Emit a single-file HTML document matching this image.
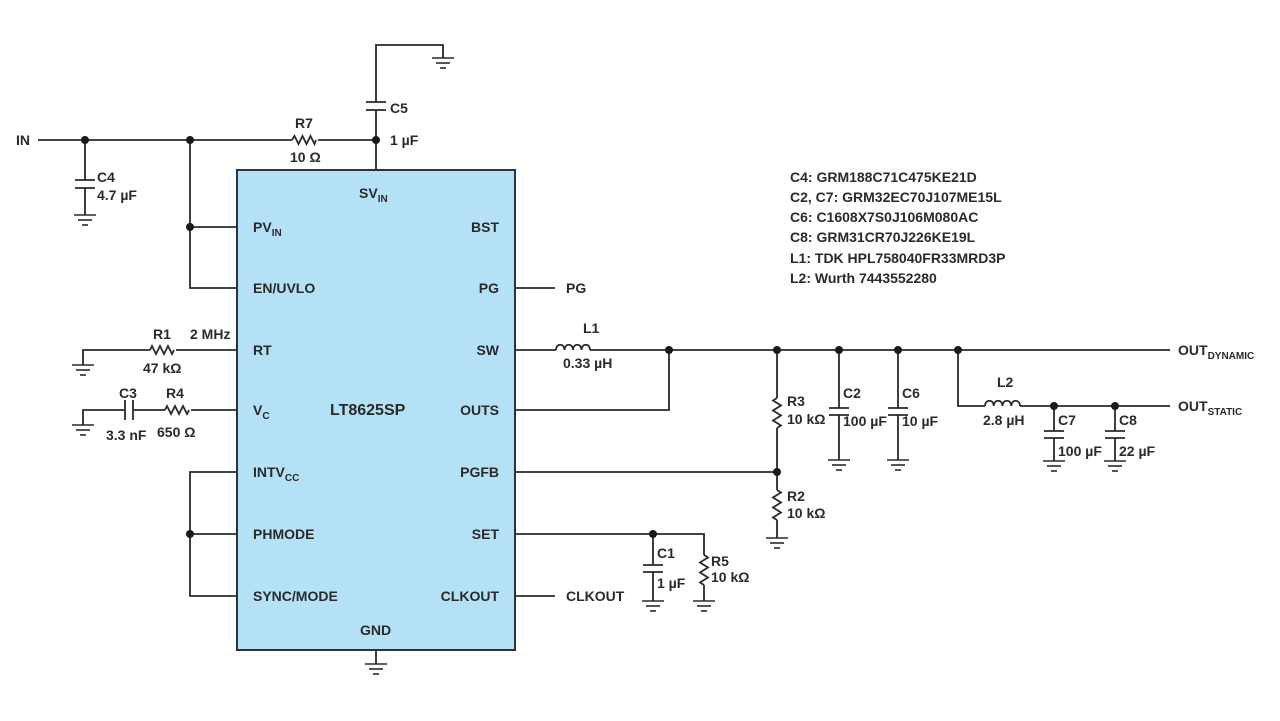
<!DOCTYPE html>
<html><head><meta charset="utf-8"><style>
html,body{margin:0;padding:0;background:#fff;}
svg{display:block;}
text{font-family:"Liberation Sans",sans-serif;font-weight:bold;fill:#2a2a2a;font-size:14px;}
.s{font-size:10px;}
</style></head><body>
<svg width="1280" height="721" viewBox="0 0 1280 721" xmlns="http://www.w3.org/2000/svg">
<defs>
<g id="gnd" stroke="#2a2a2a" stroke-width="1.6"><line x1="-11" y1="0" x2="11" y2="0"/><line x1="-7" y1="5" x2="7" y2="5"/><line x1="-3" y1="10" x2="3" y2="10"/></g>
</defs>
<rect x="237" y="170" width="278" height="480" fill="#b5e1f7" stroke="#2a3340" stroke-width="2"/>
<g stroke="#2a2a2a" stroke-width="1.8" fill="none">
<path d="M38 140 H292 M318 140 H376"/>
<path d="M292 140 l2.5 -4 l4 8 l4 -8 l4 8 l4 -8 l4 8 l1.5 -4"/>
<path d="M376 170 V110 M376 102 V45 H443 V58"/>
<path d="M366 102 H386 M366 110 H386"/>
<path d="M85 140 V180 M85 188 V215 M75 180 H95 M75 188 H95"/>
<path d="M190 140 V288 H237 M190 227 H237"/>
<path d="M83 365 V350 H150 M176 350 H237"/>
<path d="M150 350 l2 -4 l4 8 l4 -8 l4 8 l4 -8 l4 8 l2 -4"/>
<path d="M83 425 V410 H125 M133 410 H165 M191 410 H237 M125 400 V420 M133 400 V420"/>
<path d="M165 410 l2 -4 l4 8 l4 -8 l4 8 l4 -8 l4 8 l2 -4"/>
<path d="M237 472 H190 V596 H237 M190 534 H237"/>
<path d="M376 650 V664"/>
<path d="M515 288 H555 M515 596 H555"/>
<path d="M515 350 H556 M590 350 H1170"/>
<path d="M556 350 C556 343 564.5 343 564.5 350 C564.5 343 573 343 573 350 C573 343 581.5 343 581.5 350 C581.5 343 590 343 590 350"/>
<path d="M515 410 H669 V350"/>
<path d="M777 350 V398 M777 428 V490 M777 520 V538 M515 472 H777"/>
<path d="M777 398 l-4 2.5 l8 5 l-8 5 l8 5 l-8 5 l8 5 l-4 2.5"/>
<path d="M777 490 l4 2.5 l-8 5 l8 5 l-8 5 l8 5 l-8 5 l4 2.5"/>
<path d="M839 350 V408 M839 415 V460 M829 408 H849 M829 415 H849"/>
<path d="M898 350 V408 M898 415 V460 M888 408 H908 M888 415 H908"/>
<path d="M958 350 V406 H985 M1020 406 H1170"/>
<path d="M985 406 C985 399 993.75 399 993.75 406 C993.75 399 1002.5 399 1002.5 406 C1002.5 399 1011.25 399 1011.25 406 C1011.25 399 1020 399 1020 406"/>
<path d="M1054 406 V431 M1054 438 V461 M1044 431 H1064 M1044 438 H1064"/>
<path d="M1115 406 V431 M1115 438 V461 M1105 431 H1125 M1105 438 H1125"/>
<path d="M515 534 H704 V555 M704 585 V601"/>
<path d="M704 555 l4 2.5 l-8 5 l8 5 l-8 5 l8 5 l-8 5 l4 2.5"/>
<path d="M653 534 V565 M653 572 V601 M643 565 H663 M643 572 H663"/>
</g>
<g fill="none">
<use href="#gnd" x="443" y="58"/>
<use href="#gnd" x="85" y="215"/>
<use href="#gnd" x="83" y="365"/>
<use href="#gnd" x="83" y="425"/>
<use href="#gnd" x="376" y="664"/>
<use href="#gnd" x="777" y="538"/>
<use href="#gnd" x="839" y="460"/>
<use href="#gnd" x="898" y="460"/>
<use href="#gnd" x="1054" y="461"/>
<use href="#gnd" x="1115" y="461"/>
<use href="#gnd" x="653" y="601"/>
<use href="#gnd" x="704" y="601"/>
</g>
<g fill="#1a1a1a">
<circle cx="85" cy="140" r="4"/><circle cx="190" cy="140" r="4"/><circle cx="376" cy="140" r="4"/>
<circle cx="190" cy="227" r="4"/><circle cx="190" cy="534" r="4"/>
<circle cx="669" cy="350" r="4"/><circle cx="777" cy="350" r="4"/><circle cx="839" cy="350" r="4"/>
<circle cx="898" cy="350" r="4"/><circle cx="958" cy="350" r="4"/><circle cx="777" cy="472" r="4"/>
<circle cx="1054" cy="406" r="4"/><circle cx="1115" cy="406" r="4"/><circle cx="653" cy="534" r="4"/>
</g>
<text x="16" y="145">IN</text>
<text x="97" y="182">C4</text><text x="97" y="200">4.7 µF</text>
<text x="295" y="128">R7</text><text x="290" y="162">10 Ω</text>
<text x="390" y="113">C5</text><text x="390" y="145">1 µF</text>
<text x="153" y="339">R1</text><text x="190" y="339">2 MHz</text><text x="143" y="373">47 kΩ</text>
<text x="119" y="398">C3</text><text x="166" y="398">R4</text>
<text x="106" y="440">3.3 nF</text><text x="157" y="437">650 Ω</text>
<text x="359" y="198">SV<tspan class="s" dy="4">IN</tspan></text>
<text x="253" y="232">PV<tspan class="s" dy="4">IN</tspan></text>
<text x="253" y="293">EN/UVLO</text>
<text x="253" y="355">RT</text>
<text x="253" y="415">V<tspan class="s" dy="4">C</tspan></text>
<text x="253" y="477">INTV<tspan class="s" dy="4">CC</tspan></text>
<text x="253" y="539">PHMODE</text>
<text x="253" y="601">SYNC/MODE</text>
<text x="360" y="635">GND</text>
<text x="330" y="415" style="font-size:16px">LT8625SP</text>
<text x="499" y="232" text-anchor="end">BST</text>
<text x="499" y="293" text-anchor="end">PG</text>
<text x="499" y="355" text-anchor="end">SW</text>
<text x="499" y="415" text-anchor="end">OUTS</text>
<text x="499" y="477" text-anchor="end">PGFB</text>
<text x="499" y="539" text-anchor="end">SET</text>
<text x="499" y="601" text-anchor="end">CLKOUT</text>
<text x="566" y="293">PG</text>
<text x="566" y="601">CLKOUT</text>
<text x="583" y="333">L1</text><text x="563" y="368">0.33 µH</text>
<text x="787" y="406">R3</text><text x="787" y="424">10 kΩ</text>
<text x="787" y="501">R2</text><text x="787" y="518">10 kΩ</text>
<text x="843" y="398">C2</text><text x="843" y="426">100 µF</text>
<text x="902" y="398">C6</text><text x="902" y="426">10 µF</text>
<text x="997" y="387">L2</text><text x="983" y="425">2.8 µH</text>
<text x="1058" y="425">C7</text><text x="1058" y="456">100 µF</text>
<text x="1119" y="425">C8</text><text x="1119" y="456">22 µF</text>
<text x="657" y="558">C1</text><text x="657" y="588">1 µF</text>
<text x="711" y="566">R5</text><text x="711" y="582">10 kΩ</text>
<text x="1178" y="355">OUT<tspan class="s" dy="4">DYNAMIC</tspan></text>
<text x="1178" y="411">OUT<tspan class="s" dy="4">STATIC</tspan></text>
<text x="790" y="182">C4: GRM188C71C475KE21D</text>
<text x="790" y="202">C2, C7: GRM32EC70J107ME15L</text>
<text x="790" y="222">C6: C1608X7S0J106M080AC</text>
<text x="790" y="242">C8: GRM31CR70J226KE19L</text>
<text x="790" y="263">L1: TDK HPL758040FR33MRD3P</text>
<text x="790" y="283">L2: Wurth 7443552280</text>
</svg>
</body></html>
